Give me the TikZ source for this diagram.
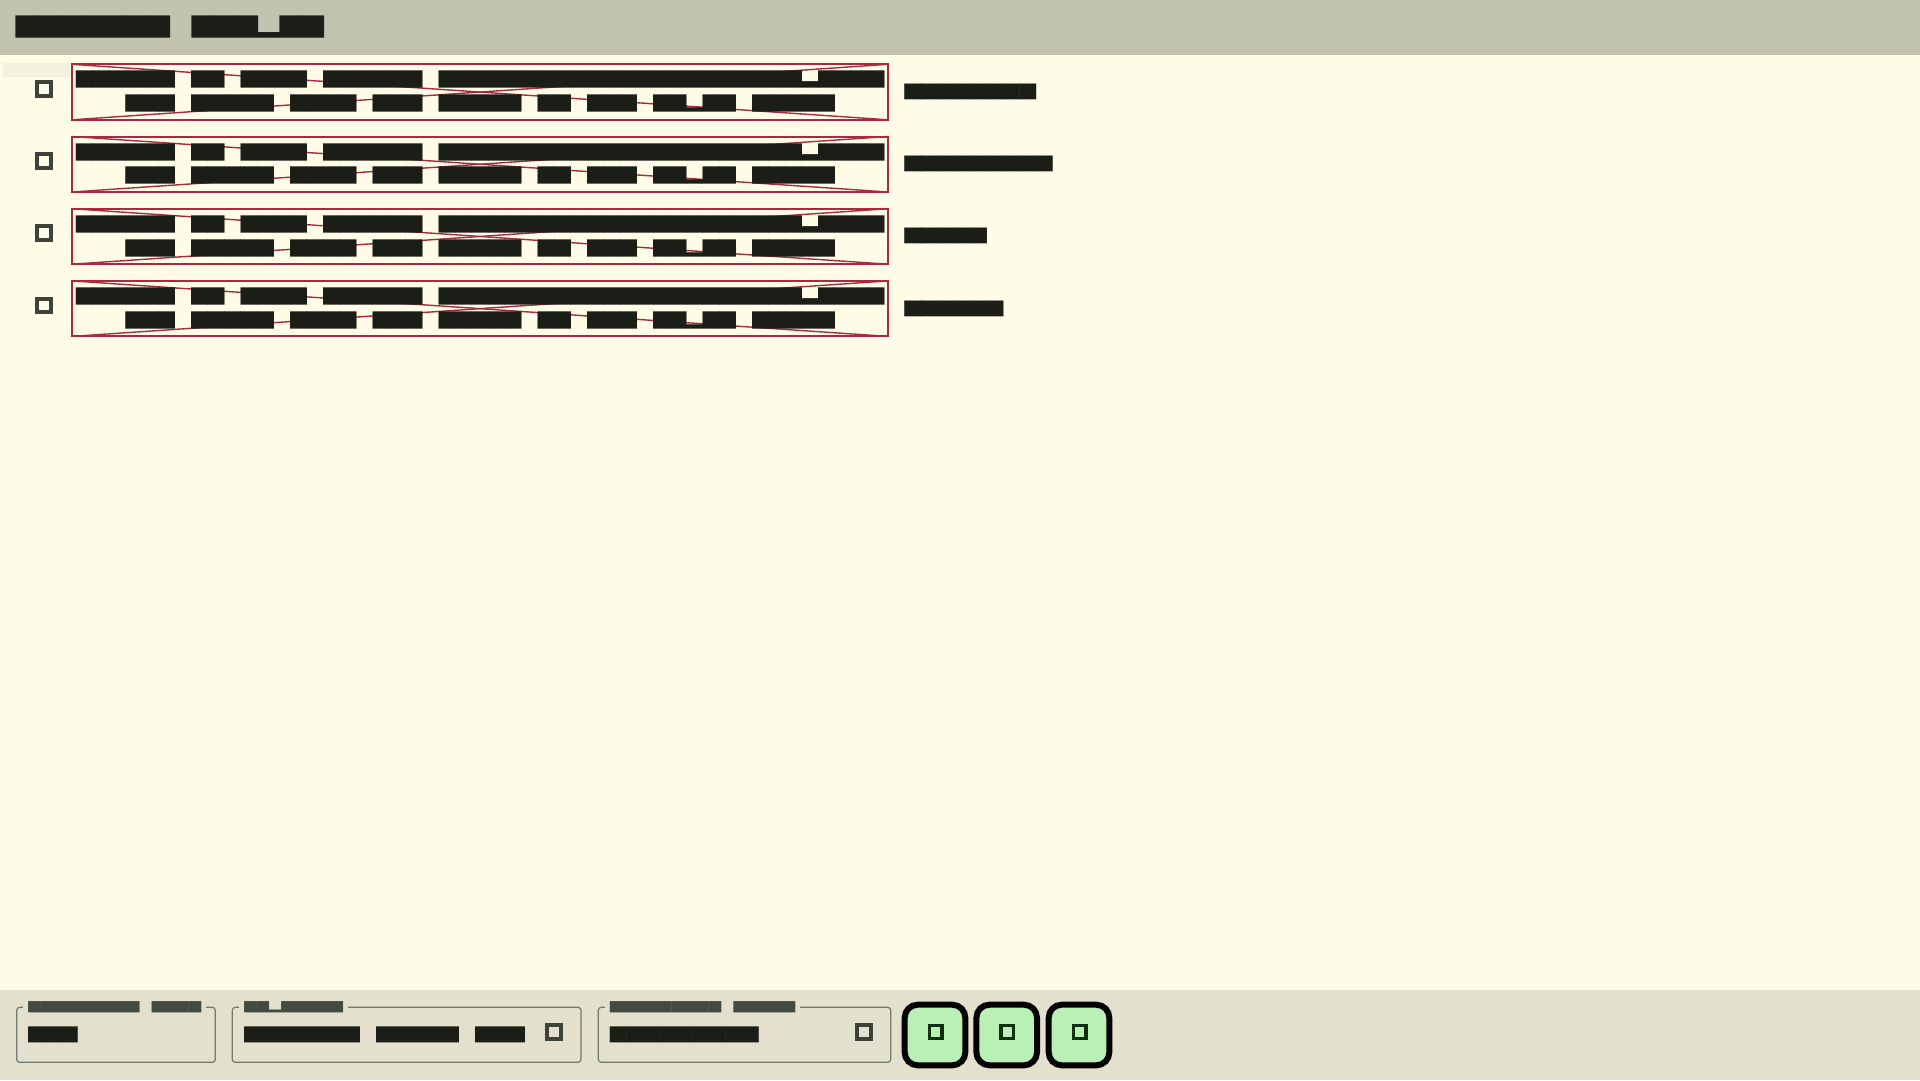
\documentclass[tikz,border=0pt]{standalone}
\usepackage{fontspec}
\usepackage{graphicx}
\newfontfamily\blkfont{DejaVu Sans Mono}
\definecolor{hdrbg}{HTML}{C1C3AF}
\definecolor{bodybg}{HTML}{FEFCE6}
\definecolor{ftrbg}{HTML}{E3E0CD}
\definecolor{ink}{HTML}{1B1E17}
\definecolor{legendink}{HTML}{434B41}
\definecolor{rowred}{HTML}{A82A40}
\definecolor{chkgrey}{HTML}{3D4339}
\definecolor{framegrey}{HTML}{6F7B6F}
\definecolor{btngreen}{HTML}{B9F0B5}
\definecolor{icongreen}{HTML}{0E2F10}
\definecolor{hilite}{HTML}{F3F1DE}
\newcommand\bk[3]{\resizebox*{#1pt}{#2pt}{\blkfont #3}}
\begin{document}
\begin{tikzpicture}[x=1pt,y=-1pt,
  txt/.style={inner sep=0pt, outer sep=0pt, anchor=north west, text=ink},
  legendtxt/.style={inner xsep=5pt, inner ysep=0pt, outer sep=0pt, anchor=north west, text=legendink, fill=ftrbg},
  rowbox/.style={draw=rowred, line width=2pt, inner sep=0pt, outer sep=0pt, anchor=north west, minimum width=816pt, minimum height=55.5pt},
  cross/.style={draw=rowred, line width=1.4pt},
  chk/.style={draw=chkgrey, line width=4pt, minimum size=13.7pt, inner sep=0pt, outer sep=0pt},
  group/.style={draw=framegrey, line width=1.2pt, rounded corners=3pt, inner sep=0pt, outer sep=0pt, anchor=north west},
  btn/.style={draw=black, line width=6pt, fill=btngreen, rounded corners=13pt, minimum size=60.6pt, inner sep=0pt},
  icon/.style={draw=icongreen, line width=3.3pt, minimum size=12.7pt, inner sep=0pt},
]
\useasboundingbox (0,0) rectangle (1920,1080);
% backgrounds
\fill[bodybg] (0,0) rectangle (1920,1080);
\fill[hdrbg] (0,0) rectangle (1920,55);
\fill[ftrbg] (0,989.5) rectangle (1920,1080);
% header title
\node[txt] (title) at (16,16) {\bk{308}{22.3}{███████ ███▂██}};
% faint highlight of first row
\fill[hilite] (3,63.3) rectangle (72,77.3);
% rows
\foreach \i/\lab/\lw in {0/████████/131.6, 1/█████████/148.1, 2/█████/82.3, 3/██████/98.7}{
  \pgfmathsetmacro\t{64.3+72.2*\i}
  \node[rowbox] (box\i) at (72,\t) {};
  \draw[cross] (box\i.north west) -- (box\i.south east);
  \draw[cross] (box\i.south west) -- (box\i.north east);
  \node[txt] (lineA\i) at (76,\t+7) {\bk{808.5}{17.3}{██████ ██ ████ ██████ ██████████████████████▃████}};
  \node[txt] (lineB\i) at (125.5,\t+30.7) {\bk{709.5}{17.3}{███ █████ ████ ███ █████ ██ ███ ██▂██ █████}};
  \node[chk] (chk\i) at (43.8,\t+24.5) {};
  \node[txt] (lab\i) at (904.5,\t+19.8) {\bk{\lw}{15.8}{\lab}};
}
% footer groups
\node[group, minimum width=198.6pt, minimum height=55pt] (g1) at (16.7,1007.3) {};
\node[group, minimum width=348.7pt, minimum height=55pt] (g2) at (232.3,1007.3) {};
\node[group, minimum width=292.4pt, minimum height=55pt] (g3) at (598.3,1007.3) {};
\node[legendtxt] (g1leg) at (23.3,1002) {\bk{172.9}{11.3}{█████████ ████}};
\node[legendtxt] (g2leg) at (239.3,1002) {\bk{98.8}{11.3}{██▂█████}};
\node[legendtxt] (g3leg) at (605,1002) {\bk{185.3}{11.3}{█████████ █████}};
\node[txt] (g1val) at (28.3,1026.7) {\bk{49.4}{16}{███}};
\node[txt] (g2val) at (244.3,1026.7) {\bk{280.5}{16}{███████ █████ ███}};
\node[txt] (g3val) at (610,1026.7) {\bk{148.5}{16}{█████████}};
\node[chk, minimum size=14pt] (g2chk) at (553.5,1031.7) {};
\node[chk, minimum size=14pt] (g3chk) at (863.5,1031.7) {};
% buttons
\foreach \j/\bx in {1/935, 2/1006.7, 3/1079}{
  \node[btn] (btn\j) at (\bx,1035) {};
  \node[icon] (ico\j) at (\bx+0.6,1032) {};
}
\end{tikzpicture}
\end{document}
